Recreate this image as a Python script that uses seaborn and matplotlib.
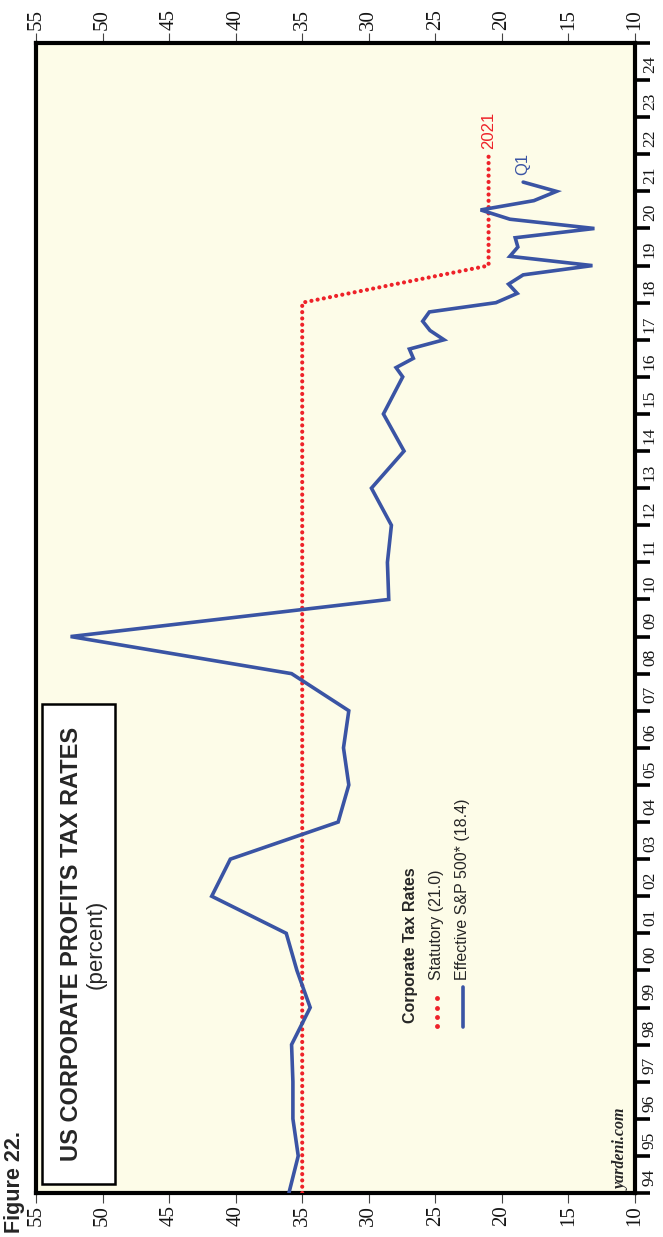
import matplotlib
matplotlib.use("Agg")
import matplotlib.pyplot as plt
import seaborn as sns
import pandas as pd
from matplotlib.lines import Line2D
from matplotlib.patches import Rectangle

# Statutory corporate tax rate (percent), at year-end positions
stat_dates = [1994.0, 2018.0, 2019.0, 2022.0]
stat_rates = [35.0, 35.0, 21.0, 21.0]

# Effective S&P 500 tax rate (percent): annual through 2016, quarterly afterwards
eff_dates = [1994, 1995, 1996, 1997, 1998, 1999, 2000, 2001, 2002, 2003,
             2004, 2005, 2006, 2007, 2008, 2009, 2010, 2011, 2012, 2013,
             2014, 2015, 2016, 2016.25, 2016.5, 2016.75, 2017, 2017.25,
             2017.5, 2017.75, 2018, 2018.25, 2018.5, 2018.75, 2019, 2019.25,
             2019.5, 2019.75, 2020, 2020.25, 2020.5, 2020.75, 2021, 2021.25]
eff_rates = [36.0, 35.3, 35.7, 35.7, 35.8, 34.4, 35.4, 36.2, 41.8, 40.4,
             32.3, 31.5, 31.9, 31.5, 35.8, 52.4, 28.5, 28.6, 28.3, 29.8,
             27.35, 28.9, 27.45, 27.95, 26.65, 26.95, 24.35, 25.4,
             25.95, 25.45, 20.45, 18.85, 19.5, 18.4, 13.2, 19.4,
             18.8, 19.0, 13.05, 19.4, 21.6, 17.6, 15.9, 18.4]

value_ticks = [10, 15, 20, 25, 30, 35, 40, 45, 50, 55]
year_start, year_end = 1994, 2025
year_labels = [f"{y % 100:02d}" for y in range(year_start, year_end)]

BLUE = "#3A54A4"
RED = "#EE2229"
BG = "#FDFCE8"
DOTS = (0, (0.01, 1.5))

sns.set_theme(style="white")
plt.rcParams["font.family"] = ["Liberation Sans", "DejaVu Sans"]

W, H = 663, 1237
fig = plt.figure(figsize=(W / 100, H / 100), dpi=100)
fig.patch.set_facecolor("white")


def fx(x):
    return x / W


def fy(y):
    return 1 - y / H


L, R, T, B = 36, 635, 43, 1193
ax = fig.add_axes([fx(L), fy(B), (R - L) / W, (B - T) / H])
ax.set_facecolor(BG)

stat = pd.DataFrame({"date": stat_dates, "rate": stat_rates})
eff = pd.DataFrame({"date": eff_dates, "rate": eff_rates})

sns.lineplot(data=stat, x="rate", y="date", sort=False, estimator=None,
             orient="y", color=RED, lw=3.0, linestyle=DOTS,
             dash_capstyle="round", ax=ax, zorder=3)
sns.lineplot(data=eff, x="rate", y="date", sort=False, estimator=None,
             orient="y", color=BLUE, lw=2.6, solid_joinstyle="miter",
             ax=ax, zorder=4)

ax.set_xlim(55, 10)
ax.set_ylim(year_start, year_end)
ax.set_xlabel("")
ax.set_ylabel("")

# value axis along top and bottom
ax.set_xticks(value_ticks)
ax.set_xticklabels([str(v) for v in value_ticks])
ax.tick_params(axis="x", which="major", top=True, bottom=True,
               labeltop=True, labelbottom=True, direction="out",
               length=7, width=0.8, color="#444444", pad=2,
               labelsize=15, labelrotation=90,
               labelfontfamily="Liberation Serif", labelcolor="#151515")

# year axis on the right: ticks on year boundaries, labels centred in each year
ax.set_yticks(range(year_start, year_end + 1))
ax.set_yticklabels([])
ax.set_yticks([y + 0.5 for y in range(year_start, year_end)], minor=True)
ax.set_yticklabels(year_labels, minor=True)
ax.tick_params(axis="y", which="major", left=False, right=True,
               labelleft=False, labelright=False, direction="out",
               length=11, width=2.6, color="black")
ax.tick_params(axis="y", which="minor", left=False, right=True, length=0,
               labelleft=False, labelright=True, pad=5, labelsize=12.5,
               labelrotation=90, labelfontfamily="Liberation Serif",
               labelcolor="#151515")

for s in ax.spines.values():
    s.set_visible(True)
    s.set_color("black")
    s.set_linewidth(3)

# end-of-series labels
ax.text(21, 2022.15, "2021", color=RED, rotation=90, ha="center",
        va="bottom", fontsize=12)
ax.text(eff_rates[-1], 2021.45, "Q1", color=BLUE, rotation=90, ha="center",
        va="bottom", fontsize=12)

# figure number
fig.text(fx(15), fy(1233), "Figure 22.", rotation=90, ha="center",
         va="bottom", fontsize=15.5, fontweight="bold")

# title box
fig.add_artist(Rectangle((fx(42), fy(1184)), (115 - 42) / W, (1184 - 704) / H,
                         transform=fig.transFigure, facecolor="white",
                         edgecolor="black", lw=1.8, zorder=5))
fig.text(fx(71.5), fy(944), "US CORPORATE PROFITS TAX RATES", rotation=90,
         ha="center", va="center", fontsize=17, fontweight="bold", zorder=6)
fig.text(fx(96), fy(944), "(percent)", rotation=90, ha="center",
         va="center", fontsize=16, zorder=6)

# legend
fig.text(fx(411), fy(1023), "Corporate Tax Rates", rotation=90, ha="center",
         va="bottom", fontsize=11.5, fontweight="bold", zorder=6)
fig.text(fx(437), fy(980), "Statutory (21.0)", rotation=90, ha="center",
         va="bottom", fontsize=11.5, zorder=6)
fig.text(fx(463), fy(980), "Effective S&P 500* (18.4)", rotation=90,
         ha="center", va="bottom", fontsize=11.5, zorder=6)
fig.add_artist(Line2D([fx(437)] * 4, [fy(1026), fy(1016.7), fy(1007.7), fy(998)],
                      transform=fig.transFigure, linestyle="none", marker="o",
                      markersize=3.5, color=RED, markeredgewidth=0, zorder=6))
fig.add_artist(Line2D([fx(463), fx(463)], [fy(1027), fy(987)],
                      transform=fig.transFigure, color=BLUE, lw=2.6, zorder=6))

# source
fig.text(fx(622), fy(1190), "yardeni.com", rotation=90, ha="center",
         va="bottom", fontsize=11.5, family="Liberation Serif", style="italic",
         fontweight="bold", zorder=6)

fig.savefig("out.png", dpi=100, facecolor="white")
